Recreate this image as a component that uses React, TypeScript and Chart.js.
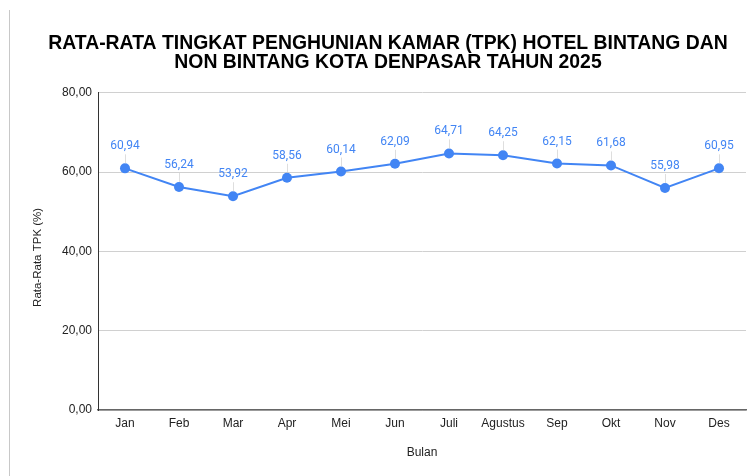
import React, { useEffect, useRef } from "react";
import { Chart, registerables } from "chart.js";

Chart.register(...registerables);

const categories = ["Jan", "Feb", "Mar", "Apr", "Mei", "Jun", "Juli", "Agustus", "Sep", "Okt", "Nov", "Des"];
const tpkValues = [60.94, 56.24, 53.92, 58.56, 60.14, 62.09, 64.71, 64.25, 62.15, 61.68, 55.98, 60.95];
const titleLines = [
  "RATA-RATA TINGKAT PENGHUNIAN KAMAR (TPK) HOTEL BINTANG DAN",
  "NON BINTANG KOTA DENPASAR TAHUN 2025",
];
const yAxisTitle = "Rata-Rata TPK (%)";
const xAxisTitle = "Bulan";

const FONT = "'Liberation Sans', Arial, sans-serif";
const BLUE = "#4285f4";

const fmt = (v: number) => v.toFixed(2).replace(".", ",");

const labelPlugin = {
  id: "pointLabels",
  afterDatasetsDraw(chart: any) {
    const ctx = chart.ctx;
    const meta = chart.getDatasetMeta(0);
    ctx.save();
    meta.data.forEach((pt: any, i: number) => {
      const x = pt.x;
      const y = pt.y;
      ctx.strokeStyle = "rgba(200,200,200,0.6)";
      ctx.lineWidth = 1;
      ctx.beginPath();
      ctx.moveTo(Math.round(x) + 0.5, y - 14);
      ctx.lineTo(Math.round(x) + 0.5, y - 5);
      ctx.stroke();
      ctx.fillStyle = BLUE;
      ctx.font = `12px Roboto, ${FONT}`;
      ctx.textAlign = "center";
      ctx.textBaseline = "middle";
      ctx.fillText(fmt(tpkValues[i]), x, y - 22);
    });
    ctx.restore();
  },
};

const yTitlePlugin = {
  id: "yTitle",
  afterDraw(chart: any) {
    const ctx = chart.ctx;
    const area = chart.chartArea;
    ctx.save();
    ctx.translate(38, (area.top + area.bottom) / 2 + 6);
    ctx.rotate(-Math.PI / 2);
    ctx.fillStyle = "#222";
    ctx.font = `11.5px ${FONT}`;
    ctx.textAlign = "center";
    ctx.textBaseline = "middle";
    ctx.fillText(yAxisTitle, 0, 0);
    ctx.restore();
  },
};

export default function App() {
  const ref = useRef<HTMLCanvasElement | null>(null);
  useEffect(() => {
    if (!ref.current) return;
    const chart = new Chart(ref.current, {
      type: "line",
      data: {
        labels: categories,
        datasets: [
          {
            data: tpkValues,
            borderColor: BLUE,
            backgroundColor: BLUE,
            borderWidth: 2,
            pointRadius: 5,
            pointBackgroundColor: BLUE,
            pointBorderWidth: 0,
            tension: 0,
          },
        ],
      },
      options: {
        animation: false,
        responsive: false,
        layout: { padding: { left: 30, right: 9, top: 0, bottom: 7 } },
        plugins: {
          legend: { display: false },
          tooltip: { enabled: false },
          title: {
            display: true,
            text: titleLines,
            color: "#000",
            font: { family: FONT, size: 19.4, weight: "bold", lineHeight: 1.0 },
            padding: { top: 34, bottom: 20 },
          },
        },
        scales: {
          x: {
            offset: true,
            grid: { display: false, drawTicks: false },
            border: { display: true, color: "#666", width: 1.5 },
            ticks: {
              color: "#222",
              font: { family: FONT, size: 12 },
              padding: 6,
              autoSkip: false,
              maxRotation: 0,
            },
            title: {
              display: true,
              text: xAxisTitle,
              color: "#222",
              font: { family: FONT, size: 12 },
              padding: { top: 0, bottom: 9 },
            },
            afterFit: (s: any) => {
              s.height = 59;
            },
          },
          y: {
            min: 0,
            max: 80,
            grid: { color: "#d0d0d0", drawTicks: false, lineWidth: 1 },
            border: { display: true, color: "#333", width: 1 },
            ticks: {
              stepSize: 20,
              color: "#222",
              font: { family: FONT, size: 12 },
              padding: 6,
              callback: (v: any) => fmt(Number(v)),
            },
            title: { display: false },
            afterFit: (s: any) => {
              s.width = 68;
            },
          },
        },
      },
      plugins: [labelPlugin, yTitlePlugin],
    });
    return () => chart.destroy();
  }, []);

  return (
    <div style={{ position: "fixed", left: 0, top: 0, width: 755, height: 476, background: "#fff" }}>
      <div style={{ position: "absolute", left: 9, top: 10, width: 1, height: 466, background: "#c8c8c8" }} />
      <canvas ref={ref} width={755} height={476} style={{ position: "absolute", left: 0, top: 0 }} />
    </div>
  );
}
